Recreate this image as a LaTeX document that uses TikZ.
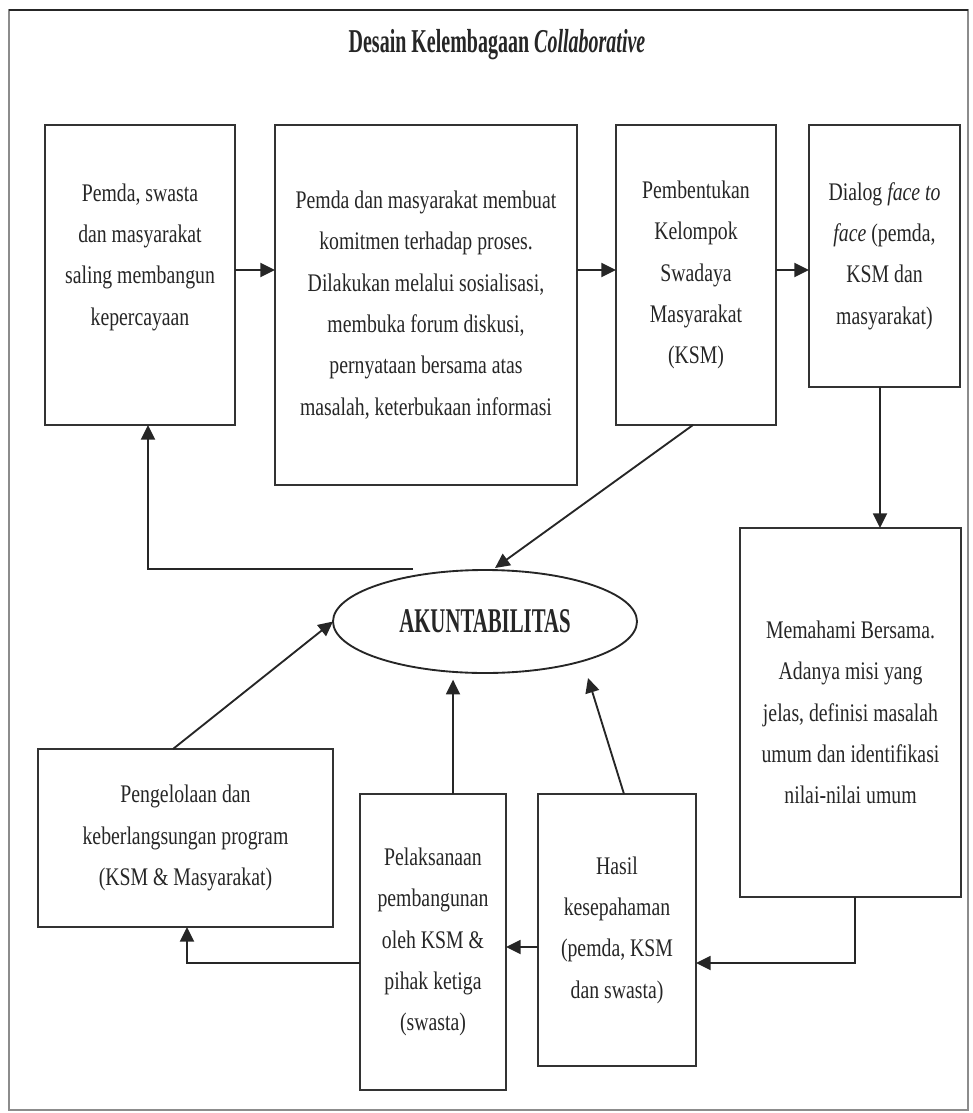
\documentclass[tikz,border=0pt]{standalone}
\usepackage{fontspec}
\setmainfont{Liberation Serif}[FakeStretch=0.78]
\newfontfamily\headfont{Liberation Serif}[FakeStretch=0.6]
\usetikzlibrary{arrows.meta,shapes.geometric}
\begin{document}
\begin{tikzpicture}[x=0.75pt, y=-0.75pt,
  every node/.style={font=\fontsize{19}{31}\selectfont, text=black!85},
  frame/.style={draw=black!45, line width=1.4pt},
  box/.style 2 args={draw=black!80, line width=1.4pt, align=center,
    inner sep=0pt, outer sep=0pt,
    minimum width=#1*0.75pt, minimum height=#2*0.75pt},
  txt/.style={align=center, inner sep=0pt},
  head/.style={font=\headfont\fontsize{25}{30}\selectfont\bfseries},
  oval/.style={draw=black!85, line width=1.4pt, ellipse, inner sep=0pt,
    outer sep=0pt, minimum width=304*0.75pt, minimum height=103*0.75pt,
    font=\headfont\fontsize{26}{30}\selectfont\bfseries},
  link/.style={draw=black!85, line width=1.4pt},
  arr/.style={link, -{Triangle[length=11pt,width=10.5pt]}},
]
\useasboundingbox (0,0) rectangle (972,1113);
% page frame
\draw[frame] (9,10) rectangle (968,1110);
\draw[draw=black!85, line width=2pt] (9,10) -- (968,10);

% title
\node[head] (title) at (497,45) {Desain Kelembagaan \textit{Collaborative}};

% top row
\node[box={190}{300}] (a) at (140,275) {};
\node[txt] (atext) at (140,257) {Pemda, swasta\\dan masyarakat\\saling membangun\\kepercayaan};
\node[box={302}{360}] (b) at (426,305) {Pemda dan masyarakat membuat\\komitmen terhadap proses.\\Dilakukan melalui sosialisasi,\\membuka forum diskusi,\\pernyataan bersama atas\\masalah, keterbukaan informasi};
\node[box={160}{300}] (c) at (696,275) {Pembentukan\\Kelompok\\Swadaya\\Masyarakat\\(KSM)};
\node[box={151}{262}] (d) at (884.5,256) {Dialog \textit{face to}\\\textit{face} (pemda,\\KSM dan\\masyarakat)};

% right column
\node[box={221}{369}] (e) at (850.5,712.5) {Memahami Bersama.\\Adanya misi yang\\jelas, definisi masalah\\umum dan identifikasi\\nilai-nilai umum};

% centre
\node[oval] (akun) at (485,621.5) {AKUNTABILITAS};

% bottom row
\node[box={295}{178}] (f) at (185.5,838) {Pengelolaan dan\\keberlangsungan program\\(KSM \& Masyarakat)};
\node[box={146}{296}] (g) at (433,942) {Pelaksanaan\\pembangunan\\oleh KSM \&\\pihak ketiga\\(swasta)};
\node[box={158}{272}] (h) at (617,930) {Hasil\\kesepahaman\\(pemda, KSM\\dan swasta)};

% helper coordinates for connector routing
\coordinate (r1) at (0,270);
\coordinate (r2) at (0,963);
\coordinate (r3) at (0,947);
\coordinate (xd) at (880,0);
\coordinate (xe) at (855,0);
\coordinate (xf) at (187,0);
\coordinate (xf2) at (173,0);
\coordinate (xg) at (453,0);
\coordinate (xh) at (624,0);
\coordinate (xc) at (693,0);
\coordinate (xa) at (148,0);
\coordinate (hk) at (588,678);
\coordinate (ck) at (495,568);
\coordinate (ret) at (413,569);

% flow along the top
\draw[arr] (a.east |- r1) -- (b.west |- r1);
\draw[arr] (b.east |- r1) -- (c.west |- r1);
\draw[arr] (c.east |- r1) -- (d.west |- r1);
\draw[arr] (d.south -| xd) -- (e.north -| xd);
% flow along the bottom
\draw[arr] (e.south -| xe) -- (xe |- r2) -- (h.east |- r2);
\draw[arr] (h.west |- r3) -- (g.east |- r3);
\draw[arr] (g.west |- r2) -- (xf |- r2) -- (f.south -| xf);
% into the centre
\draw[arr] (f.north -| xf2) -- (akun.west);
\draw[arr, shorten >=5pt] (g.north -| xg) -- (xg |- akun.south);
\draw[arr] (h.north -| xh) -- (hk);
\draw[arr] (c.south -| xc) -- (ck);
% feedback to the first step
\draw[arr] (ret) -- (xa |- ret) -- (a.south -| xa);
\end{tikzpicture}
\end{document}
